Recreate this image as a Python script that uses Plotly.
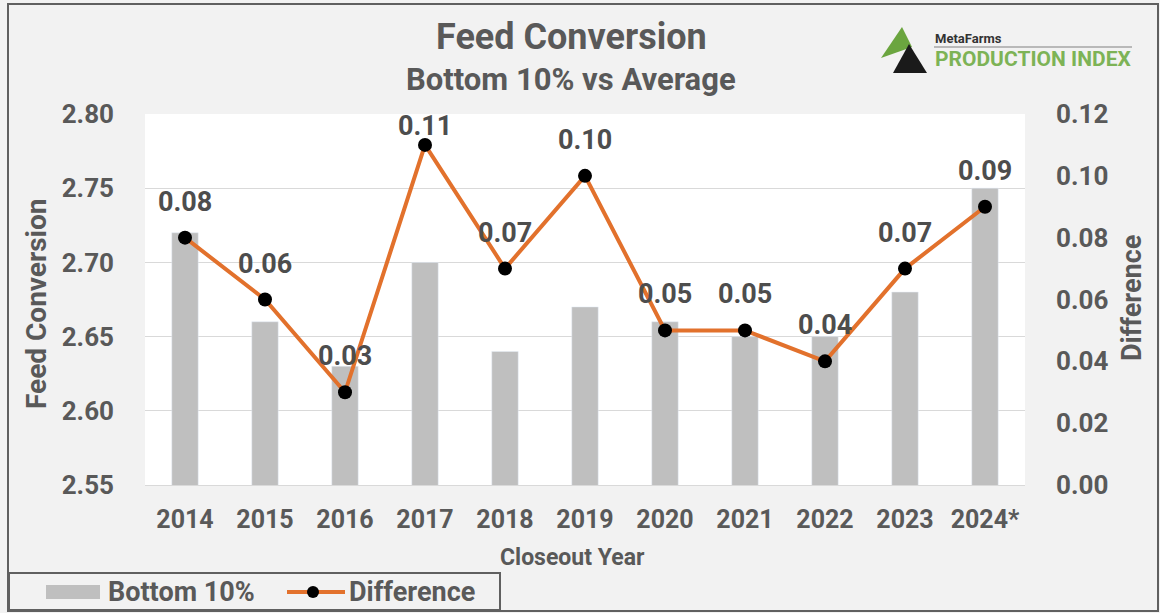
import plotly.graph_objects as go

years = ["2014", "2015", "2016", "2017", "2018", "2019", "2020", "2021", "2022", "2023", "2024*"]
bottom_10 = [2.72, 2.66, 2.63, 2.70, 2.64, 2.67, 2.66, 2.65, 2.65, 2.68, 2.75]
difference = [0.08, 0.06, 0.03, 0.11, 0.07, 0.10, 0.05, 0.05, 0.04, 0.07, 0.09]

W, H = 1160, 613
L, R, T, B = 145, 1025, 114, 485  # plot area in pixels
Y2_MAX = 0.12

GREY_TXT = "#595959"
FONT = "Roboto"


def px(x):
    return (x - L) / (R - L)


def py(y):
    return (B - y) / (B - T)


def bold(size, color=GREY_TXT):
    return dict(size=size, color=color, family=FONT, weight="bold")


def label(x, y, text, size, color=GREY_TXT, xanchor="center", angle=0):
    return dict(x=px(x), y=py(y), xref="paper", yref="paper", showarrow=False,
                xanchor=xanchor, yanchor="middle", textangle=angle,
                text=text, font=bold(size, color))


fig = go.Figure()

fig.add_trace(go.Bar(
    x=years, y=bottom_10, name="Bottom 10%",
    marker_color="#BFBFBF", width=0.33,
))

fig.add_trace(go.Scatter(
    x=years, y=difference, name="Difference", yaxis="y2",
    mode="lines+markers",
    line=dict(color="#E2712C", width=4),
    marker=dict(color="black", size=14),
))

# data labels above the markers, kept inside the plot area
annotations = []
for i, d in enumerate(difference):
    mark_px = B - d / Y2_MAX * (B - T)
    shift = min(36, mark_px - T - 12)
    annotations.append(dict(
        x=i, y=d, xref="x", yref="y2", yshift=shift, showarrow=False,
        xanchor="center", yanchor="middle",
        text=f"{d:.2f}", font=bold(27, "#4D4D4D"),
    ))

annotations += [
    label(571, 37, "Feed Conversion", 36),
    label(571, 80, "Bottom 10% vs Average", 31),
    label(36, 304, "Feed Conversion", 28, angle=-90),
    label(1132, 298, "Difference", 27, angle=-90),
    label(572, 557, "Closeout Year", 23),
    # legend text
    label(106, 592, "Bottom 10%", 27, xanchor="left"),
    label(347, 592, "Difference", 27, xanchor="left"),
    # logo text
    label(933, 38, "MetaFarms", 13, "#333333", xanchor="left"),
    label(933, 59, "PRODUCTION INDEX", 21, "#7DB356", xanchor="left"),
]

shapes = [
    # outer frame
    dict(type="rect", xref="paper", yref="paper", x0=px(8), x1=px(1158), y0=py(611), y1=py(4),
         line=dict(color="#606060", width=2), layer="below"),
    # legend box
    dict(type="rect", xref="paper", yref="paper", x0=px(9), x1=px(500), y0=py(610), y1=py(573),
         line=dict(color="#606060", width=2)),
    dict(type="rect", xref="paper", yref="paper", x0=px(46), x1=px(100), y0=py(599), y1=py(585),
         fillcolor="#BFBFBF", line=dict(width=0)),
    dict(type="line", xref="paper", yref="paper", x0=px(287), x1=px(345), y0=py(592), y1=py(592),
         line=dict(color="#E2712C", width=4)),
    dict(type="circle", xref="paper", yref="paper", x0=px(307), x1=px(319), y0=py(598), y1=py(586),
         fillcolor="black", line=dict(width=0)),
    # logo
    dict(type="path", xref="paper", yref="paper",
         path=f"M {px(902)} {py(27)} L {px(881)} {py(58)} L {px(912)} {py(47)} Z",
         fillcolor="#6BA53F", line=dict(width=0)),
    dict(type="path", xref="paper", yref="paper",
         path=f"M {px(909)} {py(44)} L {px(893)} {py(73)} L {px(927)} {py(73)} Z",
         fillcolor="#1A1A1A", line=dict(width=0)),
    dict(type="line", xref="paper", yref="paper", x0=px(934), x1=px(1132), y0=py(47), y1=py(47),
         line=dict(color="#A6A6A6", width=1.5)),
]

tickfont = bold(26)

fig.update_layout(
    width=W, height=H,
    margin=dict(l=L, r=W - R, t=T, b=H - B, autoexpand=False),
    paper_bgcolor="#F2F2F2",
    plot_bgcolor="white",
    showlegend=False,
    xaxis=dict(
        type="category", categoryorder="array", categoryarray=years,
        range=[-0.5, len(years) - 0.5], tickfont=bold(25), ticks="", showgrid=False,
        showline=True, linecolor="#D9D9D9", linewidth=1, ticklabelstandoff=12,
    ),
    yaxis=dict(
        range=[2.55, 2.80], dtick=0.05, tickformat=".2f", tickfont=tickfont,
        gridcolor="#D9D9D9", gridwidth=1, zeroline=False, ticklabelstandoff=30,
    ),
    yaxis2=dict(
        range=[0, Y2_MAX], dtick=0.02, tickformat=".2f", tickfont=tickfont,
        overlaying="y", side="right", showgrid=False, zeroline=False, ticklabelstandoff=30,
    ),
    annotations=annotations,
    shapes=shapes,
)

fig.write_html(
    "out.html",
    config={"displayModeBar": False},
    post_script="document.body.style.margin='0';document.body.style.overflow='hidden';",
)
